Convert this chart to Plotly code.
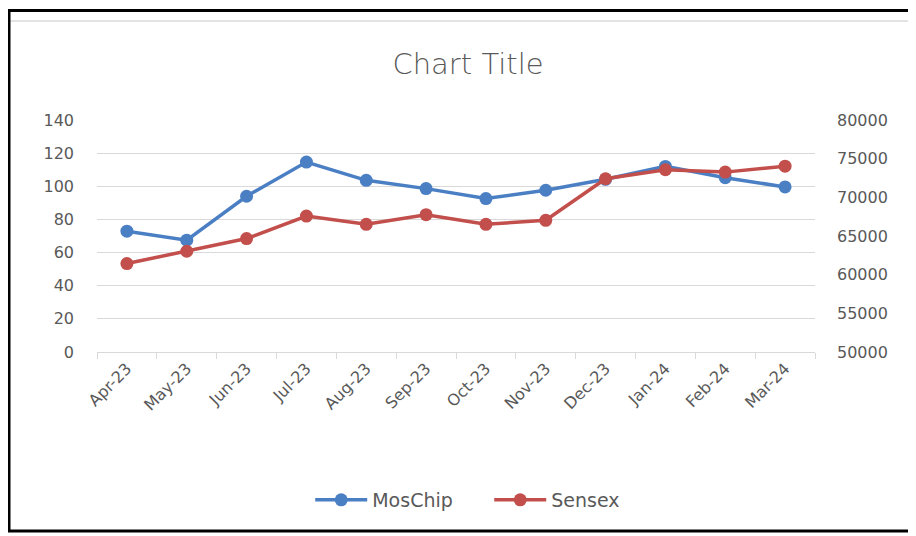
import plotly.graph_objects as go

months = ["Apr-23", "May-23", "Jun-23", "Jul-23", "Aug-23", "Sep-23",
          "Oct-23", "Nov-23", "Dec-23", "Jan-24", "Feb-24", "Mar-24"]
moschip = [72.9, 67.5, 94, 114.6, 103.6, 98.6, 92.6, 97.6, 104.2, 112, 105.2, 99.6]
sensex = [61440, 63030, 64670, 67580, 66510, 67760, 66510, 67030, 72400, 73570, 73260, 74030]

left_ticks = [0, 20, 40, 60, 80, 100, 120, 140]
right_ticks = [50000, 55000, 60000, 65000, 70000, 75000, 80000]

BLUE = "#4a7fc4"
RED = "#c24f4c"
GRAY = "#595959"
FONT = "DejaVu Sans"

OFF = 8  # page body margin
W, H = 916 - OFF, 536 - OFF
# plot area in screen pixels
X0, X1, Y0, Y1 = 97, 815, 120, 352
L, R, T, B = X0 - OFF, W - (X1 - OFF), Y0 - OFF, H - (Y1 - OFF)
pw, ph = X1 - X0, Y1 - Y0

def px(x):
    return (x - X0) / pw

def py(y):
    return (Y1 - y) / ph

fig = go.Figure()
fig.add_trace(go.Scatter(x=months, y=moschip, name="MosChip", mode="lines+markers",
                         line=dict(color=BLUE, width=3.5), marker=dict(size=13, color=BLUE)))
fig.add_trace(go.Scatter(x=months, y=sensex, name="Sensex", mode="lines+markers", yaxis="y2",
                         line=dict(color=RED, width=3.5), marker=dict(size=13, color=RED)))

fig.update_layout(
    width=W, height=H,
    margin=dict(l=L, r=R, t=T, b=B),
    paper_bgcolor="white", plot_bgcolor="white",
    font=dict(family=FONT, color=GRAY, size=16),
    title=dict(text="Chart Title", x=(468 - OFF) / W, xanchor="center", y=1 - (64 - OFF) / H,
               yanchor="middle", yref="container",
               font=dict(size=29, color=GRAY, family=FONT, weight=200)),
    xaxis=dict(type="category", showgrid=False, showline=True, linecolor="#d9d9d9", linewidth=1,
               ticks="outside", tickson="boundaries", ticklen=6, tickcolor="#d9d9d9",
               tickangle=-45, tickfont=dict(size=16, color=GRAY), range=[-0.5, 11.5]),
    yaxis=dict(range=[0, 140], tickvals=left_ticks, showgrid=True, gridcolor="#d9d9d9",
               zeroline=False, showline=False, ticks="", tickfont=dict(size=16, color=GRAY),
               ticklabelstandoff=22),
    yaxis2=dict(range=[50000, 80000], tickvals=right_ticks, tickformat="d", overlaying="y",
                side="right", showgrid=False, zeroline=False, showline=False, ticks="",
                tickfont=dict(size=16, color=GRAY), ticklabelstandoff=21),
    legend=dict(orientation="h", x=(504 - OFF) / W, xanchor="center", y=py(500),
                yanchor="middle", font=dict(size=19, color=GRAY), itemwidth=52,
                entrywidth=112),
    showlegend=True,
    shapes=[
        dict(type="line", xref="paper", yref="paper", x0=px(9), x1=px(925), y0=py(21), y1=py(21),
             line=dict(color="#e3e3e3", width=2)),
        dict(type="rect", xref="paper", yref="paper", x0=px(9), x1=px(930), y0=py(531), y1=py(10.5),
             line=dict(color="black", width=3)),
    ],
)

fig.write_html("out.html")
